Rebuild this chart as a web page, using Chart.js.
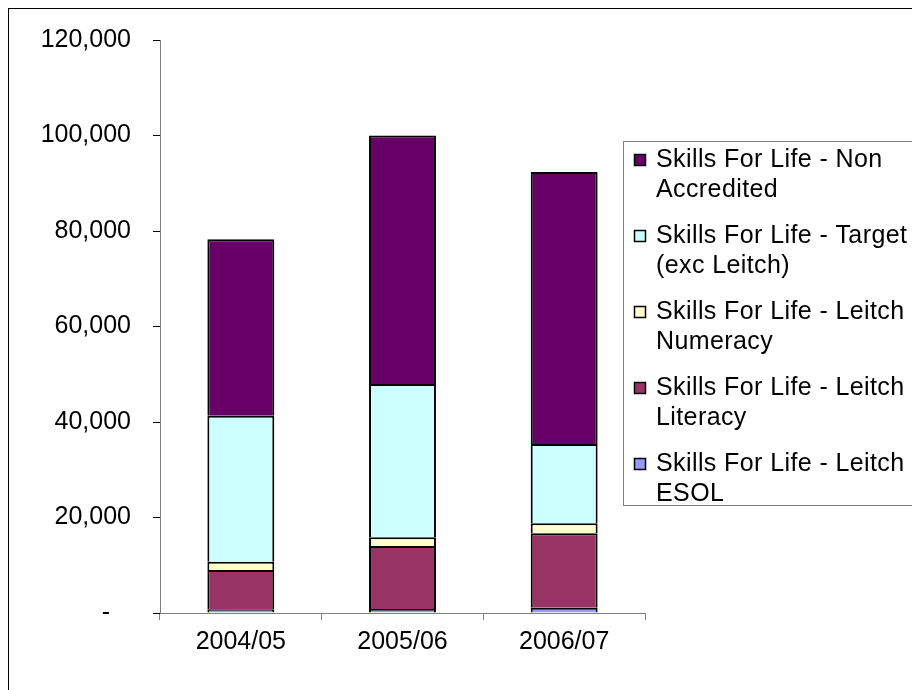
<!DOCTYPE html>
<html>
<head>
<meta charset="utf-8">
<script src="https://cdn.jsdelivr.net/npm/chart.js@4/dist/chart.umd.min.js"></script>
<style>
  html, body { margin: 0; padding: 0; background: #fff; }
  #wrap { width: 912px; height: 690px; }
</style>
</head>
<body>
<div id="wrap"><canvas id="skillsChart" width="912" height="690"></canvas></div>
<script>
// setup
const years = ['2004/05', '2005/06', '2006/07'];
const esol = [800, 840, 1100];
const literacy = [8200, 13200, 15600];
const numeracy = [1750, 1800, 2100];
const target = [30550, 32100, 16600];
const nonAccredited = [36960, 52060, 56950];
const yTicks = [0, 20000, 40000, 60000, 80000, 100000, 120000];

const FONT = "'Liberation Sans', Arial, sans-serif";

// stacked bottom to top
const data = {
  labels: years,
  datasets: [
    { label: ['Skills For Life - Leitch', 'ESOL'], data: esol, backgroundColor: '#9999FF' },
    { label: ['Skills For Life - Leitch', 'Literacy'], data: literacy, backgroundColor: '#993366' },
    { label: ['Skills For Life - Leitch', 'Numeracy'], data: numeracy, backgroundColor: '#FFFFCC' },
    { label: ['Skills For Life - Target', '(exc Leitch)'], data: target, backgroundColor: '#CCFFFF' },
    { label: ['Skills For Life - Non', 'Accredited'], data: nonAccredited, backgroundColor: '#660066' }
  ].map(d => Object.assign(d, {
    borderColor: '#000',
    borderWidth: 2,
    barPercentage: 0.414,
    categoryPercentage: 1
  }))
};

// outer frame and the boxed legend on the right
const framePlugin = {
  id: 'frame',
  beforeDraw(chart) {
    const ctx = chart.ctx;
    ctx.save();
    ctx.fillStyle = '#fff';
    ctx.fillRect(0, 0, chart.width, chart.height);
    ctx.strokeStyle = '#000';
    ctx.lineWidth = 1;
    ctx.strokeRect(8.5, 8.5, 1000, 1000);
    ctx.restore();
  },
  afterDraw(chart) {
    const ctx = chart.ctx;
    ctx.save();
    ctx.strokeStyle = '#808080';
    ctx.lineWidth = 1;
    ctx.strokeRect(623.5, 141.5, 400, 364);
    ctx.letterSpacing = '0.4px';
    ctx.font = '25px ' + FONT;
    ctx.textBaseline = 'middle';
    const sets = chart.data.datasets.slice().reverse();
    sets.forEach((ds, i) => {
      const y = 160 + i * 76;
      ctx.fillStyle = ds.backgroundColor;
      ctx.fillRect(634, y - 6, 12, 12);
      ctx.strokeStyle = '#000';
      ctx.lineWidth = 1.5;
      ctx.strokeRect(634.5, y - 5.5, 11, 11);
      ctx.fillStyle = '#000';
      ds.label.forEach((line, j) => ctx.fillText(line, 656, y + j * 30));
    });
    ctx.restore();
  }
};

// config
const config = {
  type: 'bar',
  data,
  options: {
    responsive: false,
    animation: false,
    layout: { padding: { top: 40, right: 267, left: 0, bottom: 0 } },
    plugins: {
      legend: { display: false },
      tooltip: { enabled: false }
    },
    scales: {
      x: {
        stacked: true,
        afterFit(scale) { scale.height = 77; },
        grid: { display: true, offset: true, drawOnChartArea: false, tickLength: 7, color: '#808080' },
        border: { color: '#808080' },
        ticks: { color: '#000', font: { family: FONT, size: 25 }, padding: 7, maxRotation: 0 }
      },
      y: {
        stacked: true,
        min: 0,
        max: 120000,
        afterFit(scale) { scale.width = 160; },
        afterBuildTicks(scale) { scale.ticks = yTicks.map(v => ({ value: v })); },
        grid: { drawOnChartArea: false, tickLength: 7, color: '#000' },
        border: { color: '#808080' },
        ticks: {
          color: '#000',
          font: { family: FONT, size: 25 },
          padding: 22,
          callback: v => v === 0 ? '-   ' : v.toLocaleString('en-US')
        }
      }
    }
  },
  plugins: [framePlugin]
};

const skillsChart = new Chart(document.getElementById('skillsChart'), config);
</script>
</body>
</html>
